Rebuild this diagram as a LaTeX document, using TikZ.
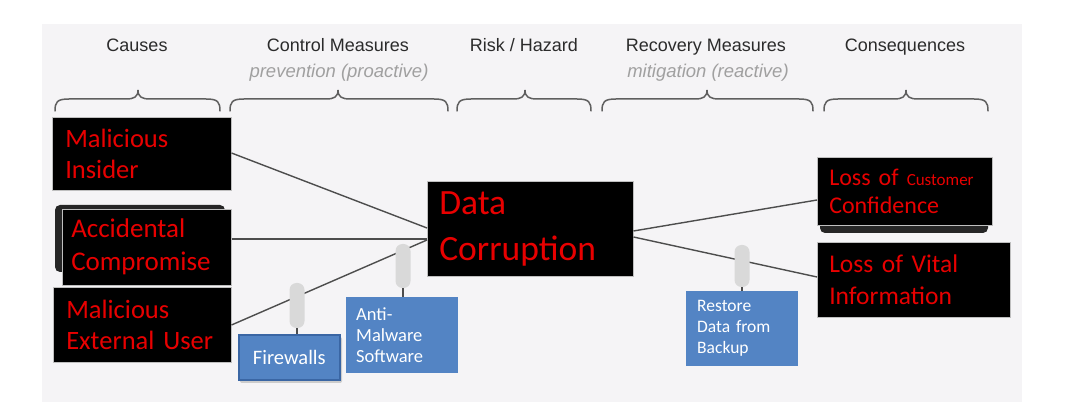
\documentclass[tikz,border=0pt]{standalone}
\usepackage{fontspec}
\setmainfont{Liberation Sans}
\newfontfamily\calfont{Carlito}
\definecolor{bggray}{HTML}{F5F4F6}
\definecolor{boxred}{HTML}{E80000}
\definecolor{boxblue}{HTML}{5384C4}
\definecolor{blueedge}{HTML}{3A66A4}
\definecolor{linegray}{HTML}{4D4D4D}
\definecolor{pillgray}{HTML}{D9D9D9}
\definecolor{headgray}{HTML}{2B2B2B}
\definecolor{subgray}{HTML}{A0A0A0}
\newcommand\hbrace[3]{%
  \draw[bracestyle] (#1,111) .. controls (#1,102) and ({#1+2},99) .. ({#1+14},99)
    -- ({#3-12},99) .. controls ({#3-4},99) and (#3,97) .. (#3,90)
    .. controls (#3,97) and ({#3+4},99) .. ({#3+12},99)
    -- ({#2-14},99) .. controls ({#2-2},99) and (#2,102) .. (#2,111);}
\tikzset{
  bracestyle/.style={draw=linegray!90, line width=1.5pt, line cap=round},
  head/.style={font=\fontsize{18}{20}\selectfont, text=headgray, anchor=base, inner sep=0},
  sub/.style={font=\fontsize{18.5}{20}\selectfont\itshape, text=subgray, anchor=base, inner sep=0},
  redbox/.style={fill=black, draw=gray!50, line width=0.5pt, text=boxred,
    font=\calfont\fontsize{26.5}{31.5}\selectfont, align=left, inner xsep=13pt,
    inner ysep=0pt, anchor=north west},
  shadowbox/.style={fill=black!85, rounded corners=5pt, draw=none},
  bluebox/.style={fill=boxblue, text=white, anchor=north west, inner ysep=0pt,
    font=\calfont\fontsize{17.5}{21}\selectfont, align=left, inner xsep=11pt},
  pill/.style={fill=pillgray, draw=none, rounded corners=7pt, minimum width=15pt,
    inner sep=0pt},
  conn/.style={draw=linegray, line width=1.4pt},
  stem/.style={draw=linegray, line width=1.2pt},
}
\begin{document}
\begin{tikzpicture}[x=1pt,y=-1pt]
\useasboundingbox (0,0) rectangle (1066,419);
\fill[white] (0,0) rectangle (1066,419);
\fill[bggray] (42,24) rectangle (1022,402);

% headers
\node[head] (hcauses) at (137,52) {Causes};
\node[head] (hcontrol) at (338,52) {Control Measures};
\node[sub] (hprev) at (339,78) {prevention (proactive)};
\node[head] (hrisk) at (524,52) {Risk / Hazard};
\node[head] (hrecov) at (706,52) {Recovery Measures};
\node[sub] (hmitig) at (708,78) {mitigation (reactive)};
\node[head] (hcons) at (905,52) {Consequences};

% braces
\hbrace{55}{220}{138}
\hbrace{230}{448}{338}
\hbrace{457}{591}{525}
\hbrace{602}{813}{707}
\hbrace{824}{988}{906}

% shadows
\fill[shadowbox] (55,205) rectangle (225,272);
\fill[shadowbox] (820,218) rectangle (988,233);
\fill[black!20, rounded corners=2pt] (240,337) rectangle (342,383);

% red boxes
\node[redbox, minimum width=179pt, minimum height=73pt, text width=153pt] (insider) at (52,117) {Malicious\\Insider};
\node[redbox, minimum width=169pt, minimum height=76pt, text width=151pt, inner xsep=9pt, font=\calfont\fontsize{27}{33}\selectfont] (accid) at (62,209) {Accidental\\Compromise};
\node[redbox, minimum width=178pt, minimum height=75pt, text width=152pt] (extuser) at (53,287) {Malicious\\External User};
\node[redbox, minimum width=206pt, minimum height=95pt, text width=182pt, inner xsep=12pt, font=\calfont\fontsize{35.5}{45.5}\selectfont] (dc) at (427,181) {Data\\Corruption};
\node[redbox, minimum width=175pt, minimum height=68pt, text width=151pt, inner xsep=12pt, font=\calfont\fontsize{24}{28}\selectfont] (custconf) at (817,157) {Loss of {\fontsize{17}{20}\selectfont Customer}\\Confidence};
\node[redbox, minimum width=193pt, minimum height=75pt, text width=169pt, inner xsep=12pt, font=\calfont\fontsize{25.5}{31.5}\selectfont] (vital) at (817,242) {Loss of Vital\\Information};

% blue boxes
\node[bluebox, draw=blueedge, line width=1.8pt, minimum width=101pt, minimum height=45pt, align=center, inner xsep=0pt, text width=101pt, font=\calfont\fontsize{20.5}{22}\selectfont] (fw) at (237.9,333.9) {Firewalls};
\node[bluebox, minimum width=112pt, minimum height=76pt, text width=92pt, inner xsep=10pt, font=\calfont\fontsize{18.5}{21}\selectfont] (am) at (346,297) {Anti-\\Malware\\Software};
\node[bluebox, minimum width=112pt, minimum height=75pt, text width=90pt, inner xsep=11pt] (rest) at (686,291) {Restore\\Data from\\Backup};

% connectors
\draw[conn] (insider.east |- 0,153) -- (dc.west |- 0,228);
\draw[conn] (accid.east |- 0,239) -- (dc.west |- 0,239);
\draw[conn] (extuser.east |- 0,325) -- (dc.west |- 0,240);
\draw[conn] (dc.east |- 0,231) -- (custconf.west |- 0,200);
\draw[conn] (dc.east |- 0,237) -- (vital.west |- 0,277);

% barriers
\node[pill, minimum height=45pt] (p1) at (297,305.5) {};
\node[pill, minimum height=44pt] (p2) at (403,266) {};
\node[pill, minimum height=42pt] (p3) at (742,266) {};
\draw[stem] (p1.south) -- (p1.south |- fw.north);
\draw[stem] (p2.south) -- (p2.south |- am.north);
\draw[stem] (p3.south) -- (p3.south |- rest.north);
\end{tikzpicture}
\end{document}
